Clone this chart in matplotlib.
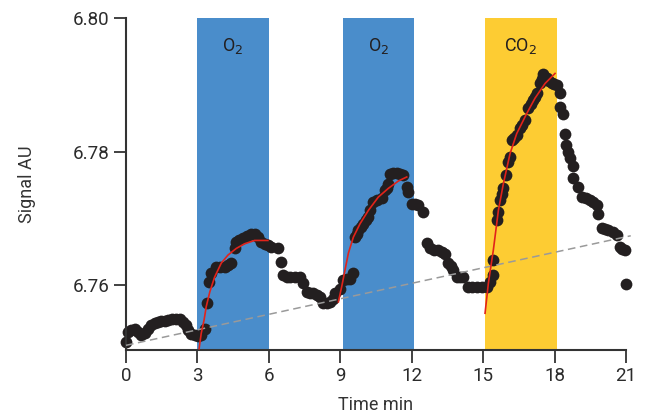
import matplotlib
matplotlib.use("Agg")
import matplotlib.pyplot as plt

plt.rcParams['font.family'] = ['Roboto', 'DejaVu Sans']

time_min = [0.00, 0.08, 0.20, 0.36, 0.50, 0.64, 0.78, 0.92, 1.06, 1.20, 1.34, 1.48, 1.62, 1.76,
            1.95, 2.11, 2.25, 2.39, 2.50, 2.60, 2.74, 2.88, 3.02,
            3.16, 3.30, 3.42, 3.47, 3.58, 3.79, 3.95, 4.14, 4.28, 4.42, 4.56, 4.63, 4.75, 4.91,
            5.08, 5.26, 5.40, 5.54, 5.68, 5.83, 5.97, 6.10, 6.40, 6.50, 6.61, 6.75, 6.89, 7.10,
            7.31, 7.45, 7.59, 7.73, 7.87, 8.01, 8.15, 8.29, 8.43, 8.57, 8.68, 8.78, 8.99, 9.13,
            9.27, 9.41, 9.55, 9.62, 9.69, 9.76, 9.87, 9.97, 10.08, 10.18, 10.25,
            10.39, 10.56, 10.74, 10.88, 10.95, 11.02, 11.09, 11.23, 11.37, 11.51, 11.65, 11.79,
            11.86, 12.00, 12.14, 12.28, 12.49, 12.63, 12.77, 12.95, 13.12, 13.26, 13.40, 13.54,
            13.65, 13.75, 13.89, 14.03, 14.17, 14.38, 14.55, 14.73, 14.94,
            15.15, 15.29, 15.43, 15.43, 15.57, 15.64, 15.71, 15.78, 15.85, 15.95, 16.06, 16.13,
            16.20, 16.30, 16.41, 16.55, 16.65, 16.76, 16.90, 17.00, 17.11, 17.18, 17.25, 17.39,
            17.46, 17.53, 17.67, 17.78, 17.88, 17.98, 18.09,
            18.23, 18.23, 18.37, 18.44, 18.48, 18.58, 18.65, 18.76, 18.79, 19.00, 19.14,
            19.30, 19.49, 19.63, 19.77, 19.84, 19.98, 20.12, 20.26, 20.44, 20.61, 20.75, 20.85,
            20.96, 21.00]
signal_au = [6.7515, 6.7530, 6.7533, 6.7535, 6.7530, 6.7525, 6.7528, 6.7535, 6.7540, 6.7543, 6.7545, 6.7546, 6.7547, 6.7548,
             6.7549, 6.7550, 6.7549, 6.7545, 6.7540, 6.7533, 6.7527, 6.7525, 6.7524,
             6.7525, 6.7535, 6.7574, 6.7605, 6.7618, 6.7627, 6.7627, 6.7627, 6.7630, 6.7633, 6.7655, 6.7665, 6.7668, 6.7670,
             6.7674, 6.7677, 6.7676, 6.7672, 6.7665, 6.7661, 6.7660, 6.7657, 6.7655, 6.7635, 6.7615, 6.7612, 6.7612, 6.7612,
             6.7612, 6.7603, 6.7590, 6.7589, 6.7588, 6.7586, 6.7583, 6.7573, 6.7574, 6.7575, 6.7580, 6.7588, 6.7595, 6.7608,
             6.7609, 6.7610, 6.7618, 6.7672, 6.7677, 6.7682, 6.7687, 6.7692, 6.7697, 6.7702, 6.7712,
             6.7725, 6.7728, 6.7730, 6.7742, 6.7746, 6.7752, 6.7767, 6.7768, 6.7768, 6.7767, 6.7765, 6.7747,
             6.7740, 6.7722, 6.7721, 6.7720, 6.7710, 6.7663, 6.7655, 6.7653, 6.7652, 6.7650, 6.7647, 6.7633,
             6.7628, 6.7623, 6.7612, 6.7612, 6.7612, 6.7598, 6.7598, 6.7597, 6.7597,
             6.7597, 6.7605, 6.7615, 6.7637, 6.7697, 6.7710, 6.7727, 6.7736, 6.7745, 6.7765, 6.7785, 6.7792,
             6.7817, 6.7820, 6.7825, 6.7835, 6.7840, 6.7847, 6.7865, 6.7871, 6.7877, 6.7882, 6.7887, 6.7902,
             6.7909, 6.7916, 6.7910, 6.7906, 6.7902, 6.7901, 6.7900,
             6.7887, 6.7867, 6.7857, 6.7827, 6.7810, 6.7800, 6.7790, 6.7778, 6.7760, 6.7747, 6.7732,
             6.7730, 6.7727, 6.7724, 6.7720, 6.7707, 6.7685, 6.7684, 6.7682, 6.7679, 6.7675, 6.7657, 6.7654,
             6.7652, 6.7602]

# fitted curves
fit1_t = [3.07, 3.16, 3.28, 3.37, 3.52, 3.72, 4.00, 4.28, 4.63, 4.98, 5.40, 5.96]
fit1_v = [6.7505, 6.7528, 6.7548, 6.7568, 6.7590, 6.7612, 6.7633, 6.7645, 6.7655, 6.7662, 6.7667, 6.7667]
fit2_t = [8.92, 9.06, 9.20, 9.34, 9.55, 9.83, 10.18, 10.60, 11.02, 11.44, 11.79]
fit2_v = [6.7575, 6.7598, 6.7623, 6.7648, 6.7672, 6.7692, 6.7712, 6.7732, 6.7745, 6.7756, 6.7762]
fit3_t = [15.08, 15.22, 15.43, 15.64, 15.85, 16.13, 16.41, 16.83, 17.18, 17.60, 18.02]
fit3_v = [6.7558, 6.7603, 6.7653, 6.7712, 6.7752, 6.7797, 6.7827, 6.7857, 6.7880, 6.7902, 6.7917]

# baseline trend
base_t = [0.0, 21.2]
base_v = [6.7510, 6.7674]

# gas exposure bands
band_start = [3.0, 9.1, 15.08]
band_end = [6.0, 12.1, 18.1]
band_label = ['O$_2$', 'O$_2$', 'CO$_2$']
band_color = ['#4a8dcb', '#4a8dcb', '#fdcc33']

x_ticks = [0, 3, 6, 9, 12, 15, 18, 21]
y_ticks = [6.76, 6.78, 6.80]

ink = '#231f20'

fig = plt.figure(figsize=(6.5, 4.15), dpi=100)
ax = fig.add_axes([126/650, 65/415, 500/650, 332/415])

for s, e, lab, c in zip(band_start, band_end, band_label, band_color):
    ax.axvspan(s, e, color=c, lw=0, zorder=0)
    ax.text((s + e) / 2, 6.7958, lab, ha='center', va='center', fontsize=13,
            color=ink, zorder=5)

ax.scatter(time_min, signal_au, s=72, color=ink, lw=0, zorder=2, clip_on=False)
ax.plot(base_t, base_v, color='#9a9a9a', lw=1.1, dashes=(5, 3), zorder=3, clip_on=False)
for ft, fv in ((fit1_t, fit1_v), (fit2_t, fit2_v), (fit3_t, fit3_v)):
    ax.plot(ft, fv, color='#e2231a', lw=1.2, zorder=4)

ax.set_xlim(0, 21)
ax.set_ylim(6.7503, 6.80)
ax.set_xticks(x_ticks)
ax.set_xticklabels([str(v) for v in x_ticks])
ax.set_yticks(y_ticks)
ax.set_yticklabels([f'{v:.2f}' for v in y_ticks])

for sp in ('top', 'right'):
    ax.spines[sp].set_visible(False)
for sp in ('left', 'bottom'):
    ax.spines[sp].set_color('#333333')
    ax.spines[sp].set_linewidth(1.5)
ax.tick_params(axis='both', direction='out', length=9, width=1.3, color='#333333',
               labelsize=13.5, labelcolor='#2b2b2b', pad=3)

ax.set_xlabel('Time min', fontsize=13, color='#333333', labelpad=8)
ax.set_ylabel('Signal AU', fontsize=13, color='#333333', labelpad=26)

fig.savefig('out.png', dpi=100)
